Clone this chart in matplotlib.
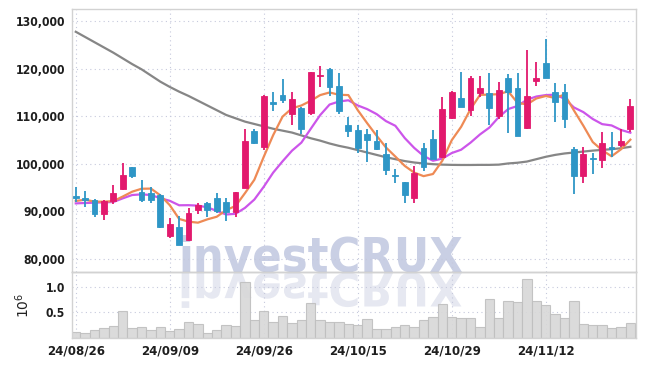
import numpy as np
import matplotlib
matplotlib.use('Agg')
import matplotlib.pyplot as plt
from matplotlib.textpath import TextPath
from matplotlib.patches import PathPatch
from matplotlib.font_manager import FontProperties
from matplotlib.transforms import Affine2D, IdentityTransform

# daily candles, 60 trading days (24/08/26 .. 24/11/25)
opens = [92950, 92800, 92500, 89400, 92100, 94700, 99300, 94100, 93950, 93450,
         84900, 86800, 84000, 90300, 91700, 92890, 92050, 89950, 94900, 106860,
         103500, 113020, 114560, 110440, 111830, 110770, 118500, 119970, 116390, 108190,
         107130, 106290, 104820, 102090, 97600, 96200, 92770, 103280, 105180, 101520,
         109720, 113800, 111340, 114980, 114850, 110140, 118010, 115970, 107620, 117500,
         121230, 115130, 115130, 103140, 97520, 101100, 100820, 103620, 103990, 107280]
highs = [95080, 94240, 92700, 92350, 95500, 100260, 99300, 96550, 95210, 93600,
         88690, 89050, 90800, 91850, 92050, 93820, 92890, 94030, 107280, 107300,
         114400, 115070, 117800, 115070, 111900, 119300, 120600, 120180, 119060, 109930,
         108190, 107280, 107130, 104460, 98930, 96300, 99560, 104460, 107130, 114010,
         115300, 119400, 118490, 118490, 119060, 117300, 118910, 119060, 123960, 121500,
         126210, 116960, 116750, 103620, 103620, 102230, 106780, 106780, 107280, 113590]
lows = [91930, 91000, 88900, 88140, 91500, 94500, 97000, 92050, 91840, 86500,
        84350, 82950, 83800, 89460, 88900, 89740, 88060, 88900, 94870, 104200,
        102930, 111200, 112880, 108190, 106300, 110290, 116120, 114350, 110500, 105730,
        102360, 100470, 102930, 97670, 95920, 91720, 91720, 98510, 100970, 101180,
        109380, 112040, 110080, 114000, 108190, 109380, 106440, 105800, 107280, 116390,
        118140, 108750, 107490, 93610, 95920, 97880, 99080, 101520, 103620, 106780]
closes = [92900, 92400, 89400, 92300, 93900, 97700, 97500, 92500, 92470, 86800,
          87400, 83000, 89650, 91350, 90300, 90160, 89950, 94030, 104820, 104400,
          114300, 112700, 113510, 113590, 107350, 119270, 118700, 116250, 111190, 106990,
          103410, 105030, 103140, 98720, 97450, 93550, 98020, 99420, 100970, 111490,
          115140, 112040, 118010, 115910, 111830, 115550, 115070, 105870, 114290, 118070,
          118140, 112960, 109520, 97520, 102020, 101030, 104340, 103140, 104820, 112180]

# moving averages
ma5 = [92200, 92480, 92060, 92060, 92180, 93140, 94160, 94780, 94810, 93390,
       91330, 88430, 87860, 87640, 88340, 88890, 90280, 91160, 93850, 96670,
       101500, 106050, 109950, 111700, 112290, 113280, 114480, 115030, 114550, 114480,
       111310, 108570, 105950, 103460, 101550, 99580, 98180, 97430, 97880, 100690,
       105000, 107810, 111530, 114520, 114590, 114670, 115270, 112850, 112520, 113770,
       114290, 113870, 114600, 111240, 108030, 104600, 102880, 101610, 103070, 105100]
ma10 = [91700, 91780, 91850, 91920, 91990, 92760, 93460, 93600, 93460, 92790,
        92240, 91300, 91320, 91230, 90870, 90110, 89360, 89510, 90750, 92510,
        95200, 98170, 100550, 102780, 104480, 107390, 110270, 112490, 113130, 113390,
        112300, 111530, 110490, 109010, 108020, 105440, 103380, 101690, 100670, 101120,
        102290, 102990, 104480, 106200, 107640, 109840, 111540, 112190, 113520, 114180,
        114480, 114570, 113720, 111880, 110900, 109450, 108370, 108100, 107150, 106570]
ma_long = [127800, 126700, 125600, 124500, 123400, 122200, 121000, 119900, 118600, 117300,
           116200, 115200, 114300, 113300, 112300, 111300, 110300, 109600, 108900, 108400,
           107900, 107400, 107000, 106600, 106000, 105400, 104900, 104300, 103800, 103400,
           102900, 102400, 101900, 101400, 101000, 100600, 100300, 100100, 99950, 99850,
           99800, 99780, 99780, 99800, 99800, 99850, 100100, 100250, 100500, 101000,
           101500, 101900, 102200, 102400, 102600, 102800, 102950, 103100, 103300, 103600]

# volume in millions
volume = [0.11, 0.09, 0.15, 0.19, 0.23, 0.52, 0.19, 0.21, 0.15, 0.21,
          0.13, 0.17, 0.32, 0.27, 0.09, 0.15, 0.25, 0.23, 1.10, 0.34,
          0.52, 0.32, 0.42, 0.30, 0.34, 0.68, 0.34, 0.32, 0.32, 0.27,
          0.25, 0.36, 0.17, 0.17, 0.21, 0.25, 0.21, 0.34, 0.40, 0.66,
          0.40, 0.38, 0.38, 0.21, 0.75, 0.38, 0.73, 0.71, 1.16, 0.73,
          0.64, 0.46, 0.38, 0.73, 0.28, 0.25, 0.25, 0.19, 0.21, 0.30]

tick_pos = [0, 10, 20, 30, 40, 50]
tick_labels = ['24/08/26', '24/09/09', '24/09/26', '24/10/15', '24/10/29', '24/11/12']
price_ticks = [80000, 90000, 100000, 110000, 120000, 130000]
watermark = 'investCRUX'

UP = '#e2196d'
DOWN = '#2e96c6'
GRID = '#c6c9dc'
lab_font = FontProperties(family='DejaVu Sans', weight='bold', stretch='condensed', size=10)
date_font = FontProperties(family='DejaVu Sans', weight='bold', stretch='condensed', size=10)
wm_font = FontProperties(family='DejaVu Sans', weight='bold', stretch='condensed', size=30)

W, H = 645, 366
fig = plt.figure(figsize=(W / 100, H / 100), dpi=100)
fig.patch.set_facecolor('white')
ax = fig.add_axes([72 / W, 94 / H, 564 / W, 263 / H])
axv = fig.add_axes([72 / W, 28.1 / H, 564 / W, 65.9 / H], sharex=ax)
for a in (ax, axv):
    a.set_facecolor('none')
    for s in a.spines.values():
        s.set_color('#d2d2d2')
        s.set_linewidth(1.0)
    a.grid(True, linestyle=(0, (1, 3)), color=GRID, lw=0.8)
    a.set_axisbelow(True)
    a.tick_params(length=0, colors='#1e1e1e')
ax.spines['bottom'].set_color('#bdbdbd')

# watermark (real text) sitting on the panel divider
wm = fig.text(178 / W, (H - 272) / H, watermark, fontproperties=wm_font,
              color='#c9cfe4', ha='left', va='baseline', zorder=-1)

x = np.arange(len(closes))
o = np.array(opens); c = np.array(closes)
cols = [UP if cc >= oo else DOWN for oo, cc in zip(o, c)]
bottoms = np.minimum(o, c)
heights = np.maximum(np.abs(c - o), 280)

ax.plot(x, ma_long, color='#868686', lw=1.6, zorder=2)
ax.plot(x, ma10, color='#cc55ea', lw=1.6, zorder=2)
ax.plot(x, ma5, color='#ee8a55', lw=1.6, zorder=2)
ax.vlines(x, lows, highs, colors=cols, lw=1.3, zorder=3)
ax.bar(x, heights, bottom=bottoms, width=0.62, color=cols, edgecolor=cols, lw=0.6, zorder=4)

ax.set_xlim(-0.4, 59.6)
ax.set_ylim(77265, 132590)
ax.set_yticks(price_ticks)
ylabs = ax.set_yticklabels([f'{v:,}' for v in price_ticks], fontproperties=lab_font)
ax.set_xticks(tick_pos)
ax.tick_params(labelbottom=False, pad=5)

axv.bar(x, volume, width=1.0, color='#d8d8d8', edgecolor='#bfbfbf', lw=0.8, alpha=0.9, zorder=2)
axv.set_ylim(0, 1.287)
axv.set_yticks([0.5, 1.0])
vlabs = axv.set_yticklabels(['0.5', '1.0'], fontproperties=lab_font)
axv.set_xticks(tick_pos)
xlabs = axv.set_xticklabels(tick_labels, fontproperties=date_font)
axv.tick_params(pad=5)
axv.set_ylabel('$10^6$', fontsize=10, color='#222222', labelpad=10)

# size the labels so they come close to the reference
fig.canvas.draw()
r = fig.canvas.get_renderer()
k = 50 / ylabs[-1].get_window_extent(r).width
for t in list(ylabs) + list(vlabs):
    t.set_fontsize(10 * k)
k2 = 58 / xlabs[0].get_window_extent(r).width
for t in xlabs:
    t.set_fontsize(10 * k2)
wm_size = 30 * 284 / wm.get_window_extent(r).width
wm.set_fontsize(wm_size)

# mirrored reflection of the watermark below the divider
tp = TextPath((0, 0), watermark, size=wm_size * 100 / 72, prop=wm_font)
refl = Affine2D().scale(1, -0.95).translate(178, H - 273)
fig.add_artist(PathPatch(refl.transform_path(tp), transform=IdentityTransform(),
                         facecolor='#e6e8f1', edgecolor='none', zorder=-2))

fig.savefig('out.png', dpi=100)
